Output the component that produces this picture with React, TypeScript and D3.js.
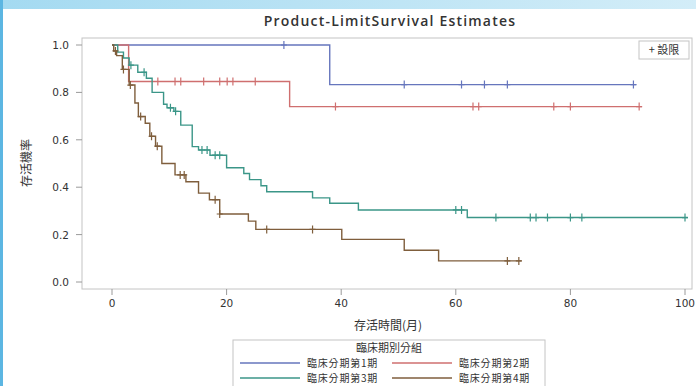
import * as d3 from "d3";

// survival step data per group (time in months, survival probability)
const g1Times = [0, 38];
const g1Surv = [1, 0.833];
const g1Censor = [30, 51, 61, 65, 69, 91];
const g1End = 91.5;

const g2Times = [0, 2.9, 31];
const g2Surv = [1, 0.846, 0.74];
const g2Censor = [8, 11, 12, 16, 18.8, 20.1, 21.1, 25, 39, 63, 64, 77.1, 80, 92];
const g2End = 92.5;

const g3Times = [0, 1, 2, 3, 4.5, 6, 7, 9, 9.6, 10.8, 12, 14, 15.1, 17.1, 20, 23, 24, 26, 27, 35, 38, 43, 62];
const g3Surv = [1, 0.97, 0.945, 0.915, 0.885, 0.86, 0.8, 0.75, 0.735, 0.72, 0.662, 0.571, 0.557, 0.535, 0.482, 0.458, 0.432, 0.406, 0.381, 0.355, 0.332, 0.304, 0.272];
const g3Censor = [3.3, 5.6, 10.2, 11.1, 15.7, 16.6, 18, 18.8, 60, 61, 67, 73, 74, 76, 80, 82, 100];
const g3End = 100.5;

const g4Times = [0, 0.3, 0.8, 1.8, 3, 4, 4.6, 5.8, 6.6, 7.6, 8.7, 11, 12.9, 15.1, 17, 18.8, 23.8, 25.1, 40.1, 51, 57];
const g4Surv = [1, 0.975, 0.955, 0.897, 0.831, 0.755, 0.698, 0.67, 0.615, 0.573, 0.5, 0.452, 0.423, 0.375, 0.347, 0.287, 0.257, 0.222, 0.18, 0.134, 0.089];
const g4Censor = [0.6, 2, 3.2, 5, 6.9, 7.9, 11.9, 12.6, 18, 18.8, 27, 35, 69, 71];
const g4End = 71.5;

const groupNames = ["臨床分期第1期", "臨床分期第2期", "臨床分期第3期", "臨床分期第4期"];
const groupColors = ["#6676bd", "#cf6f6f", "#3b9688", "#7f5e3c"];
const xTicks = [0, 20, 40, 60, 80, 100];
const yTicks = [0, 0.2, 0.4, 0.6, 0.8, 1.0];

const W = 696;
const H = 386;
const box = { left: 82, top: 38, right: 692, bottom: 289 };

const x = d3.scaleLinear().domain([0, 100]).range([112, 685]);
const y = d3.scaleLinear().domain([0, 1]).range([282, 45]);

const groups = [
  { times: g1Times, surv: g1Surv, censor: g1Censor, end: g1End },
  { times: g2Times, surv: g2Surv, censor: g2Censor, end: g2End },
  { times: g3Times, surv: g3Surv, censor: g3Censor, end: g3End },
  { times: g4Times, surv: g4Surv, censor: g4Censor, end: g4End },
];

function survAt(times: number[], surv: number[], t: number) {
  let s = surv[0];
  for (let i = 0; i < times.length; i++) if (times[i] <= t) s = surv[i];
  return s;
}

const line = d3
  .line<[number, number]>()
  .x((d) => x(d[0]))
  .y((d) => y(d[1]))
  .curve(d3.curveStepAfter);

const cjk = "'Noto Sans CJK TC', 'Noto Sans CJK SC', sans-serif";

export default function App() {
  return (
    <svg
      width={W}
      height={H}
      style={{ position: "absolute", left: 0, top: 0, background: "#fff" }}
    >
      <defs>
        <linearGradient id="topband" x1="0" x2="1" y1="0" y2="0">
          <stop offset="0%" stopColor="#a4daf1" />
          <stop offset="100%" stopColor="#d3edf8" />
        </linearGradient>
      </defs>
      <rect x={0} y={0} width={W} height={9} fill="url(#topband)" />
      <rect x={0} y={0} width={3} height={H} fill="#5cb6e2" />

      <text
        x={390}
        y={26}
        textAnchor="middle"
        fontFamily="'Open Sans', sans-serif"
        fontWeight={600}
        fontSize={14}
        letterSpacing={1.2}
        fill="#333"
      >
        Product-LimitSurvival Estimates
      </text>

      <rect
        x={box.left}
        y={box.top}
        width={box.right - box.left}
        height={box.bottom - box.top}
        fill="none"
        stroke="#c4c4c4"
      />

      {yTicks.map((t) => (
        <g key={"y" + t}>
          <line x1={76} x2={box.left} y1={y(t)} y2={y(t)} stroke="#9a9a9a" />
          <text
            x={69}
            y={y(t) + 4}
            textAnchor="end"
            fontFamily="'DejaVu Sans', sans-serif"
            fontSize={10.5}
            fill="#333"
          >
            {t.toFixed(1)}
          </text>
        </g>
      ))}
      {xTicks.map((t) => (
        <g key={"x" + t}>
          <line x1={x(t)} x2={x(t)} y1={box.bottom} y2={box.bottom + 6} stroke="#9a9a9a" />
          <text
            x={x(t)}
            y={307}
            textAnchor="middle"
            fontFamily="'DejaVu Sans', sans-serif"
            fontSize={10.5}
            fill="#333"
          >
            {t}
          </text>
        </g>
      ))}

      <text
        x={388}
        y={330}
        textAnchor="middle"
        fontFamily={cjk}
        fontSize={12}
        fill="#333"
      >
        存活時間(月)
      </text>
      <text
        transform="translate(31,163) rotate(-90)"
        textAnchor="middle"
        fontFamily={cjk}
        fontSize={12}
        fill="#333"
      >
        存活機率
      </text>

      {groups.map((g, gi) => {
        const pts: [number, number][] = g.times.map((t, i) => [t, g.surv[i]]);
        pts.push([g.end, g.surv[g.surv.length - 1]]);
        return (
          <g key={"g" + gi}>
            <path d={line(pts) || ""} fill="none" stroke={groupColors[gi]} strokeWidth={1.4} />
            {g.censor.map((c, ci) => {
              const cx = x(c);
              const cy = y(survAt(g.times, g.surv, c));
              return (
                <path
                  key={ci}
                  d={`M${cx - 3},${cy}H${cx + 3}M${cx},${cy - 4}V${cy + 4}`}
                  stroke={groupColors[gi]}
                  strokeWidth={1.2}
                />
              );
            })}
          </g>
        );
      })}

      <rect x={639} y={41} width={50} height={18} fill="#fff" stroke="#c4c4c4" />
      <text x={664} y={54} textAnchor="middle" fontFamily={cjk} fontSize={11} fill="#333">
        + 設限
      </text>

      <rect x={233} y={340} width={312} height={52} fill="#fff" stroke="#c4c4c4" />
      <text x={389} y={352} textAnchor="middle" fontFamily={cjk} fontSize={11} fill="#333">
        臨床期別分組
      </text>
      {groupNames.map((n, i) => {
        const col = i % 2;
        const row = Math.floor(i / 2);
        const lx = 240 + col * 152;
        const ly = 363 + row * 15;
        return (
          <g key={n}>
            <line x1={lx} x2={lx + 60} y1={ly} y2={ly} stroke={groupColors[i]} strokeWidth={1.4} />
            <text
              x={lx + 67}
              y={ly + 3.5}
              fontFamily={cjk}
              fontSize={10}
              letterSpacing={0.8}
              fill="#333"
            >
              {n}
            </text>
          </g>
        );
      })}
    </svg>
  );
}
